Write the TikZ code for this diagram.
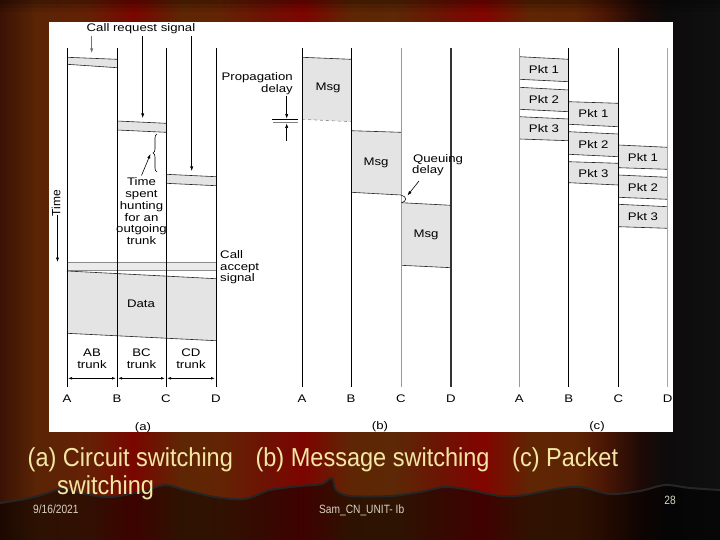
\documentclass[tikz,border=0pt]{standalone}
\usepackage{fontspec}
\setmainfont{Liberation Sans}
\usetikzlibrary{arrows.meta,decorations.pathreplacing}
\definecolor{bandgray}{HTML}{E4E4E4}
\definecolor{titlecol}{HTML}{F3E7A6}
\definecolor{footcol}{HTML}{D9D2C4}
\definecolor{s0}{HTML}{3A1204}
\definecolor{s1}{HTML}{5A2405}
\definecolor{s2}{HTML}{652005}
\definecolor{s3}{HTML}{7A0600}
\definecolor{s4}{HTML}{5E2604}
\definecolor{s5}{HTML}{632404}
\definecolor{s6}{HTML}{6E1204}
\definecolor{s7}{HTML}{7E0400}
\definecolor{s8}{HTML}{5E2604}
\definecolor{s9}{HTML}{5C2805}
\definecolor{s10}{HTML}{6C1404}
\definecolor{s11}{HTML}{820400}
\definecolor{s12}{HTML}{5F2604}
\definecolor{s13}{HTML}{5E2404}
\definecolor{s14}{HTML}{4A1604}
\definecolor{s15}{HTML}{1E0A06}
\definecolor{s16}{HTML}{0D0B0B}
\definecolor{s17}{HTML}{101010}
% band: x1 x2 top1 top2 bot1 bot2
\newcommand\tband[6]{%
  \fill[bandgray] (#1,#3) -- (#2,#4) -- (#2,#6) -- (#1,#5) -- cycle;
  \draw[edge] (#1,#3) -- (#2,#4) (#1,#5) -- (#2,#6);}
% labelled box: x1 x2 top1 top2 bot1 bot2 name text
\newcommand\lbox[8]{%
  \tband{#1}{#2}{#3}{#4}{#5}{#6}
  \node[lbl] (#7) at ({(#1+#2)/2},{(#3+#4+#5+#6)/4}) {#8};}
\begin{document}
\begin{tikzpicture}[x=1pt,y=-1pt,
  lbl/.style={font=\fontsize{11}{11.8}\selectfont, xscale=1.2, inner sep=0pt, align=center},
  tline/.style={line width=0.8pt, black},
  edge/.style={line width=0.6pt, black!85},
  arr/.style={-{Latex[length=4.5pt,width=3.2pt]}, line width=0.6pt},
  dim/.style={{Latex[length=4pt,width=2.6pt]}-{Latex[length=4pt,width=2.6pt]}, line width=0.6pt},
  slide/.style={font=\fontsize{26}{29}\selectfont, xscale=0.905, text=titlecol, anchor=base west, inner sep=0pt},
  foot/.style={font=\fontsize{12}{13}\selectfont, xscale=0.85, text=footcol, inner sep=0pt}]
\useasboundingbox (0,0) rectangle (720,540);
% ---------- curtain background
\foreach \xa/\ca/\xb/\cb in {0/s0/35/s1, 35/s1/90/s2, 90/s2/133/s3, 133/s3/180/s4,
  180/s4/220/s5, 220/s5/265/s6, 265/s6/303/s7, 303/s7/350/s8, 350/s8/395/s9,
  395/s9/440/s10, 440/s10/482/s11, 482/s11/530/s12, 530/s12/575/s13,
  575/s13/605/s14, 605/s14/640/s15, 640/s15/665/s16, 665/s16/720/s17}
  \shade[left color=\ca, right color=\cb] (\xa,0) rectangle ({\xb+0.6},540);
\fill[black, opacity=0.3] (0,0) rectangle (720,4);
\fill[black, opacity=0.18] (0,4) rectangle (720,8);
\fill[black, opacity=0.08] (0,8) rectangle (720,12);
\fill[black, opacity=0.5] plot[smooth] coordinates {(0,503) (25,499) (45,494) (62,489) (85,494) (110,497) (140,492) (165,485) (185,490) (215,497) (245,499) (270,490) (300,486) (322,484) (332,478) (336,490) (350,496) (390,496) (420,492) (445,487) (470,490) (500,496) (525,495) (555,489) (580,487) (610,494) (640,491) (665,485) (690,488) (720,490)} -- (720,540) -- (0,540) -- cycle;
\draw[black!85, line width=2pt] plot[smooth] coordinates {(0,503) (25,499) (45,494) (62,489) (85,494) (110,497) (140,492) (165,485) (185,490) (215,497) (245,499) (270,490) (300,486) (322,484) (332,478) (336,490) (350,496) (390,496) (420,492) (445,487) (470,490) (500,496) (525,495) (555,489) (580,487) (610,494) (640,491) (665,485) (690,488) (720,490)};
% ---------- white panel
\fill[white] (49,22) rectangle (673,432);

% ================= (a) circuit switching
\tband{67}{117}{57.3}{59.3}{64.3}{67.7}
\tband{117}{166}{121}{123.3}{130}{132.3}
\tband{166}{216}{174.3}{176.7}{183.3}{185.7}
\fill[bandgray!75] (67,262.3) rectangle (216,270.3);
\draw[black!45, line width=0.5pt] (67,262.3) -- (216,262.3) (67,270.3) -- (216,270.3);
\fill[bandgray] (67,271) -- (216,278.7) -- (216,340.7) -- (67,333.3) -- cycle;
\draw[edge] (67,271) -- (216,278.7) (67,333.3) -- (216,340.7);
\foreach \n/\x in {aA/67, aB/117, aC/166, aD/216}
  \draw[tline] (\x,48) coordinate (\n t) -- (\x,387) coordinate (\n b);
\node[lbl] (aAl) at (67,399) {A};
\node[lbl] (aBl) at (117,399) {B};
\node[lbl] (aCl) at (166,399) {C};
\node[lbl] (aDl) at (216,399) {D};
\draw[dim] (68,378.3) -- (116,378.3);
\draw[dim] (118,378.3) -- (165,378.3);
\draw[dim] (167,378.3) -- (215,378.3);
\node[lbl] (abt) at (92,359) {AB\\trunk};
\node[lbl] (bct) at (141.5,359) {BC\\trunk};
\node[lbl] (cdt) at (191,359) {CD\\trunk};
\node[lbl] (data) at (141,304) {Data};
\node[lbl] (crs) at (141,29) {Call request signal};
\draw[arr, black!55] (91.7,36) -- (91.7,53);
\draw[arr] (142.7,36) -- (142.7,118);
\draw[arr] (191.7,36) -- (191.7,171);
\draw[line width=0.6pt, decorate, decoration={brace, amplitude=4pt}] (157,172) -- (157,134);
\node[lbl] (tsh) at (141.5,211.2) {Time\\spent\\hunting\\for an\\outgoing\\trunk};
\draw[arr] (141.5,175.5) -- (150.5,154);
\node[font=\fontsize{12}{13}\selectfont, inner sep=0pt, rotate=90] (time) at (56,203) {Time};
\draw[arr] (57.5,215) -- (57.5,262);
\node[lbl, align=left, anchor=west] (cas) at (220,267.3) {Call\\accept\\signal};
\node[lbl] (capa) at (143,428) {(a)};

% ================= (b) message switching
\fill[bandgray] (302,57.3) -- (351,59.3) -- (351,121.7) -- (302,119.3) -- cycle;
\draw[edge] (302,57.3) -- (351,59.3);
\draw[black!45, dashed, line width=0.6pt] (302,119.3) -- (351,121.7);
\node[lbl] (msg1) at (328,88) {Msg};
\lbox{351}{401}{130.7}{132.3}{192.3}{195}{msg2}{Msg}
\lbox{401}{451}{202.7}{205.3}{265.3}{267.7}{msg3}{Msg}
\draw[tline] (302,48) coordinate (bAt) -- (302,387) coordinate (bAb);
\draw[tline] (351,48) coordinate (bBt) -- (351,387) coordinate (bBb);
\draw[line width=0.8pt, black!40] (401,48) coordinate (bCt) -- (401,387) coordinate (bCb);
\draw[line width=1.4pt, black!80] (451,48) coordinate (bDt) -- (451,387) coordinate (bDb);
\node[lbl] (bAl) at (302,399) {A};
\node[lbl] (bBl) at (351,399) {B};
\node[lbl] (bCl) at (401,399) {C};
\node[lbl] (bDl) at (451,399) {D};
\node[lbl, align=right, anchor=east] (prop) at (293,83.6) {Propagation\\delay};
\draw[arr] (286.7,96) -- (286.7,118.6);
\draw[line width=0.6pt] (272,119.3) -- (298,119.3);
\draw[black!50, line width=0.6pt] (273,122.7) -- (298,122.7);
\draw[arr] (286.7,141) -- (286.7,123.4);
\node[lbl] (qd1) at (438,159.3) {Queuing};
\node[lbl] (qd2) at (428,171) {delay};
\draw[arr] (419,181) -- (407.5,195.5);
\draw[line width=0.6pt] (401.5,195.3) .. controls (407,196.5) and (407,201.5) .. (401.5,202.7);
\node[lbl] (capb) at (380,427) {(b)};

% ================= (c) packet switching
\lbox{519.3}{568.7}{56.7}{59.3}{79.3}{81.7}{p1ab}{Pkt 1}
\lbox{519.3}{568.7}{87.3}{90}{109.3}{111.7}{p2ab}{Pkt 2}
\lbox{519.3}{568.7}{116.7}{119}{139}{140.7}{p3ab}{Pkt 3}
\lbox{568.7}{618.3}{101.7}{103.3}{124.3}{126.7}{p1bc}{Pkt 1}
\lbox{568.7}{618.3}{131.7}{134}{154.3}{156.7}{p2bc}{Pkt 2}
\lbox{568.7}{618.3}{161.7}{163.3}{182.7}{185}{p3bc}{Pkt 3}
\lbox{618.3}{667.7}{145}{147.3}{167.7}{169.3}{p1cd}{Pkt 1}
\lbox{618.3}{667.7}{175}{177.3}{197.3}{199.3}{p2cd}{Pkt 2}
\lbox{618.3}{667.7}{204.3}{206.7}{226.7}{228.3}{p3cd}{Pkt 3}
\draw[line width=0.8pt, black!40] (519.3,48) coordinate (cAt) -- (519.3,387) coordinate (cAb);
\draw[tline] (568.7,48) coordinate (cBt) -- (568.7,387) coordinate (cBb);
\draw[tline] (618.3,48) coordinate (cCt) -- (618.3,387) coordinate (cCb);
\draw[line width=1pt, black!35] (667.7,48) coordinate (cDt) -- (667.7,387) coordinate (cDb);
\node[lbl] (cAl) at (519.3,399) {A};
\node[lbl] (cBl) at (568.7,399) {B};
\node[lbl] (cCl) at (618.3,399) {C};
\node[lbl] (cDl) at (667.7,399) {D};
\node[lbl] (capc) at (597,427) {(c)};

% ================= slide text
\node[slide] (title1) at (27.5,466)
  {(a) Circuit switching\hspace{25pt}(b) Message switching\hspace{25pt}(c) Packet};
\node[slide] (title2) at (57,494) {switching};
\node[foot, anchor=base west] (date) at (33,513) {9/16/2021};
\node[foot, anchor=base west] (footer) at (319,513) {Sam\_CN\_UNIT- Ib};
\node[foot, anchor=base] (page) at (670,504) {28};
\end{tikzpicture}
\end{document}
